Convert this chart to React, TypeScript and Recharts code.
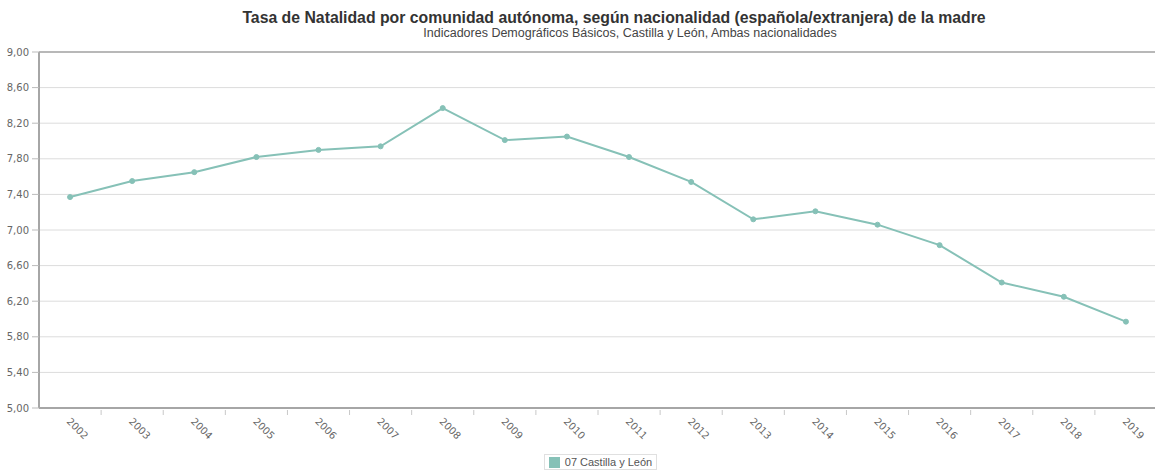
import React from 'react';
import { LineChart, Line, XAxis, YAxis, CartesianGrid, Legend, ReferenceLine } from 'recharts';

const years = [2002, 2003, 2004, 2005, 2006, 2007, 2008, 2009, 2010, 2011, 2012, 2013, 2014, 2015, 2016, 2017, 2018, 2019];
const castillaLeon = [7.37, 7.55, 7.65, 7.82, 7.9, 7.94, 8.37, 8.01, 8.05, 7.82, 7.54, 7.12, 7.21, 7.06, 6.83, 6.41, 6.25, 5.97];
const yTicks = [5, 5.4, 5.8, 6.2, 6.6, 7, 7.4, 7.8, 8.2, 8.6, 9];
// tick marks sit between the years
const yearSeparators = [2002.5, 2003.5, 2004.5, 2005.5, 2006.5, 2007.5, 2008.5, 2009.5, 2010.5, 2011.5, 2012.5, 2013.5, 2014.5, 2015.5, 2016.5, 2017.5, 2018.5];

const seriesName = '07 Castilla y León';
const title = 'Tasa de Natalidad por comunidad autónoma, según nacionalidad (española/extranjera) de la madre';
const subtitle = 'Indicadores Demográficos Básicos, Castilla y León, Ambas nacionalidades';

const data = years.map((year, i) => ({ year, value: castillaLeon[i] }));

const lineColor = '#86c1b7';
const borderColor = '#a6a6a6';

const YearTick = (props: any) => {
  const { x, y, payload } = props;
  if (!Number.isInteger(payload.value)) {
    return <line x1={x} y1={y} x2={x} y2={y + 5} stroke="#c8c8c8" />;
  }
  return (
    <text
      x={x - 4}
      y={y + 12}
      transform={`rotate(45, ${x - 4}, ${y + 12})`}
      fontSize={10}
      fontFamily="DejaVu Sans"
      fill="#666"
      textAnchor="start"
    >
      {payload.value}
    </text>
  );
};

const LegendBox = (props: any) => {
  const item = props.payload && props.payload[0];
  return (
    <div style={{ display: 'flex', justifyContent: 'center' }}>
      <div
        style={{
          marginLeft: 44,
          display: 'flex',
          alignItems: 'center',
          border: '1px solid #e0e0e0',
          padding: '1px 4px',
          fontFamily: "'Liberation Sans Narrow', 'Liberation Sans', sans-serif",
          fontSize: 11,
          color: '#555',
        }}
      >
        <span style={{ width: 11, height: 11, background: item ? item.color : lineColor, marginRight: 5, display: 'inline-block' }} />
        {seriesName}
      </div>
    </div>
  );
};

export default function App() {
  return (
    <div style={{ position: 'absolute', left: 0, top: 0, width: 1155, height: 470, overflow: 'hidden', background: '#fff' }}>
      <div
        style={{
          position: 'absolute',
          top: 9,
          left: 0,
          width: 1228,
          textAlign: 'center',
          fontFamily: "'Liberation Sans', Arial, sans-serif",
          fontWeight: 'bold',
          fontSize: 15.8,
          color: '#333',
        }}
      >
        {title}
      </div>
      <div
        style={{
          position: 'absolute',
          top: 26,
          left: 0,
          width: 1260,
          textAlign: 'center',
          fontFamily: "'Liberation Sans', Arial, sans-serif",
          fontSize: 12.5,
          color: '#444',
        }}
      >
        {subtitle}
      </div>
      <LineChart width={1160} height={470} data={data} margin={{ top: 52, right: 3, bottom: 0, left: 0 }}>
        <CartesianGrid vertical={false} stroke="#dcdcdc" />
        <XAxis
          dataKey="year"
          type="number"
          domain={[2001.5, 2019.5]}
          ticks={[...years, ...yearSeparators]}
          interval={0}
          tickLine={false}
          tickSize={0}
          tick={<YearTick />}
          height={46}
          axisLine={{ stroke: borderColor, strokeWidth: 2 }}
        />
        <YAxis
          domain={[5, 9]}
          ticks={yTicks}
          interval={0}
          width={39}
          tickSize={7}
          tickMargin={3}
          tickLine={{ stroke: '#bbb' }}
          axisLine={{ stroke: borderColor, strokeWidth: 2 }}
          tickFormatter={(v: number) => v.toFixed(2).replace('.', ',')}
          tick={{ fontSize: 10, fontFamily: 'DejaVu Sans', fill: '#666' }}
        />
        <ReferenceLine y={9} stroke={borderColor} strokeWidth={1.5} />
        <Legend verticalAlign="bottom" content={<LegendBox />} />
        <Line
          type="linear"
          dataKey="value"
          name={seriesName}
          stroke={lineColor}
          strokeWidth={2}
          dot={{ r: 2.5, fill: lineColor, stroke: lineColor, strokeWidth: 1 }}
          isAnimationActive={false}
        />
      </LineChart>
    </div>
  );
}
